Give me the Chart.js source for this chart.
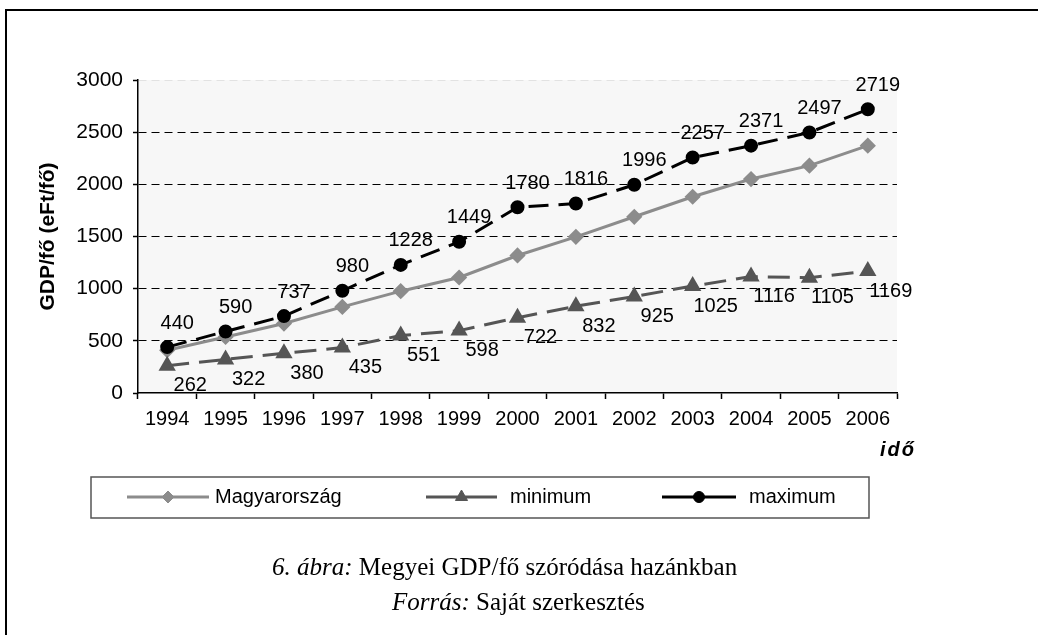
<!DOCTYPE html>
<html>
<head>
<meta charset="utf-8">
<script src="https://cdn.jsdelivr.net/npm/chart.js@4.4.1/dist/chart.umd.min.js"></script>
<style>
  html, body { margin: 0; padding: 0; background: #fff; }
  #wrap { position: relative; width: 1038px; height: 635px; overflow: hidden; }
  #frame { position: absolute; left: 5px; top: 9px; width: 1100px; height: 700px;
           border-left: 2px solid #000; border-top: 2px solid #000; }
  canvas { position: absolute; left: 0; top: 0; }
  .cap { position: absolute; font-family: "Liberation Serif", "Times New Roman", serif;
         font-size: 25px; line-height: 30px; color: #000; white-space: nowrap; }
</style>
</head>
<body>
<div id="wrap">
  <div id="frame"></div>
  <canvas id="c" width="1038" height="635"></canvas>
  <div class="cap" style="left:272px; top:552px;"><i>6. ábra:</i> Megyei GDP/fő szóródása hazánkban</div>
  <div class="cap" style="left:392px; top:587px;"><i>Forrás:</i> Saját szerkesztés</div>
</div>
<script>
// ---- data ----
const years = ['1994','1995','1996','1997','1998','1999','2000','2001','2002','2003','2004','2005','2006'];
const hungary = [410, 537, 666, 825, 976, 1107, 1318, 1497, 1689, 1881, 2051, 2179, 2371];
const minimum = [262, 322, 380, 435, 551, 598, 722, 832, 925, 1025, 1116, 1105, 1169];
const maximum = [440, 590, 737, 980, 1228, 1449, 1780, 1816, 1996, 2257, 2371, 2497, 2719];
const seriesNames = ['Magyarország', 'minimum', 'maximum'];
const yAxisTitle = 'GDP/fő (eFt/fő)';
const xAxisTitle = 'idő';

const FONT = '"Liberation Sans", Arial, sans-serif';

const plotBg = {
  id: 'plotBg',
  beforeDraw(chart) {
    const {ctx, chartArea: a} = chart;
    ctx.save();
    ctx.fillStyle = '#f7f7f7';
    ctx.fillRect(a.left, a.top, a.right - a.left, a.bottom - a.top);
    ctx.restore();
  }
};

const valueLabels = {
  id: 'valueLabels',
  afterDatasetsDraw(chart) {
    const ctx = chart.ctx;
    ctx.save();
    ctx.font = '20px ' + FONT;
    ctx.fillStyle = '#000';
    ctx.textAlign = 'center';
    ctx.textBaseline = 'middle';
    chart.data.datasets.forEach((ds, i) => {
      if (!ds.labelOffset) return;
      const meta = chart.getDatasetMeta(i);
      meta.data.forEach((pt, j) => {
        ctx.fillText(String(ds.data[j]), pt.x + ds.labelOffset[0], pt.y + ds.labelOffset[1]);
      });
    });
    ctx.restore();
  }
};

function marker(ctx, ds, x, y) {
  ctx.save();
  ctx.fillStyle = ds.pointBackgroundColor;
  ctx.strokeStyle = ds.pointBorderColor;
  ctx.lineWidth = 1;
  ctx.setLineDash([]);
  const opts = {pointStyle: ds.pointStyle, radius: ds.pointRadius, rotation: 0, borderWidth: 1};
  if (Chart.helpers && Chart.helpers.drawPoint) {
    Chart.helpers.drawPoint(ctx, opts, x, y);
  } else {
    ctx.beginPath(); ctx.arc(x, y, ds.pointRadius, 0, Math.PI * 2); ctx.fill();
  }
  ctx.restore();
}

const extras = {
  id: 'extras',
  afterDraw(chart) {
    const ctx = chart.ctx;
    const a = chart.chartArea;
    // x axis title
    ctx.save();
    ctx.font = 'italic bold 20px ' + FONT;
    ctx.fillStyle = '#000';
    ctx.textBaseline = 'middle';
    ctx.textAlign = 'left';
    try { ctx.letterSpacing = '2px'; } catch (e) {}
    ctx.fillText(xAxisTitle, a.right - 17, 450);
    ctx.restore();

    // legend
    ctx.save();
    ctx.strokeStyle = '#555';
    ctx.lineWidth = 1.5;
    ctx.strokeRect(91, 477, 869 - 91, 518 - 477);
    const ly = 497;
    const items = [[127, 209, 215], [426, 497, 510], [662, 736, 749]];
    items.forEach((it, i) => {
      const ds = chart.data.datasets[i];
      ctx.save();
      ctx.strokeStyle = ds.borderColor;
      ctx.lineWidth = ds.borderWidth;
      ctx.setLineDash([]);
      ctx.beginPath();
      ctx.moveTo(it[0], ly); ctx.lineTo(it[1], ly);
      ctx.stroke();
      ctx.restore();
      marker(ctx, ds, (it[0] + it[1]) / 2, ly);
      ctx.font = '20px ' + FONT;
      ctx.fillStyle = '#000';
      ctx.textBaseline = 'middle';
      ctx.textAlign = 'left';
      ctx.fillText(seriesNames[i], it[2], ly);
    });
    ctx.restore();
  }
};

new Chart(document.getElementById('c'), {
  type: 'line',
  data: {
    labels: years,
    datasets: [
      {
        label: seriesNames[0], data: hungary,
        borderColor: '#8c8c8c', borderWidth: 3, borderDash: [],
        pointStyle: 'rectRot', pointRadius: 6, pointHoverRadius: 6,
        pointBackgroundColor: '#8c8c8c', pointBorderColor: '#8c8c8c',
        tension: 0, order: 3
      },
      {
        label: seriesNames[1], data: minimum,
        borderColor: '#555555', borderWidth: 3, borderDash: [22, 10],
        pointStyle: 'triangle', pointRadius: 7, pointHoverRadius: 7,
        pointBackgroundColor: '#555555', pointBorderColor: '#555555',
        tension: 0, labelOffset: [23, 20], order: 2
      },
      {
        label: seriesNames[2], data: maximum,
        borderColor: '#000000', borderWidth: 3, borderDash: [20, 10],
        pointStyle: 'circle', pointRadius: 5.5, pointHoverRadius: 5.5,
        pointBackgroundColor: '#000000', pointBorderColor: '#000000',
        tension: 0, labelOffset: [10, -24], order: 1
      }
    ]
  },
  options: {
    responsive: false,
    animation: false,
    events: [],
    layout: { padding: { left: 36, top: 80, right: 141, bottom: 192 } },
    plugins: {
      legend: { display: false },
      tooltip: { enabled: false },
      title: { display: false }
    },
    scales: {
      x: {
        offset: true,
        grid: {
          display: true, offset: true, drawOnChartArea: false, drawTicks: true,
          tickLength: 6, tickColor: '#000', tickWidth: 1.5
        },
        border: { display: true, color: '#000', width: 1.5 },
        ticks: { color: '#000', font: { family: FONT, size: 20 }, padding: 8, maxRotation: 0, autoSkip: false },
        afterFit(scale) { scale.height = 50; }
      },
      y: {
        min: 0, max: 3000,
        ticks: {
          stepSize: 500, color: '#000', font: { family: FONT, size: 21 }, padding: 10,
          callback: (v) => String(v)
        },
        grid: {
          color: (c) => (c.tick && c.tick.value === 3000) ? '#e2e2e2' : (c.tick && c.tick.value === 0 ? 'rgba(0,0,0,0)' : '#000'),
          lineWidth: 1,
          borderDash: [8, 5],
          drawTicks: true, tickLength: 5, tickColor: '#000', tickWidth: 1.5, tickBorderDash: []
        },
        border: { display: true, color: '#000', width: 1.5, dash: [8, 5] },
        title: {
          display: true, text: yAxisTitle, color: '#000',
          font: { family: FONT, size: 21, weight: 'bold' },
          padding: { top: 0, bottom: 0 }
        },
        afterFit(scale) { scale.width = 102; }
      }
    }
  },
  plugins: [plotBg, valueLabels, extras]
});
</script>
</body>
</html>
